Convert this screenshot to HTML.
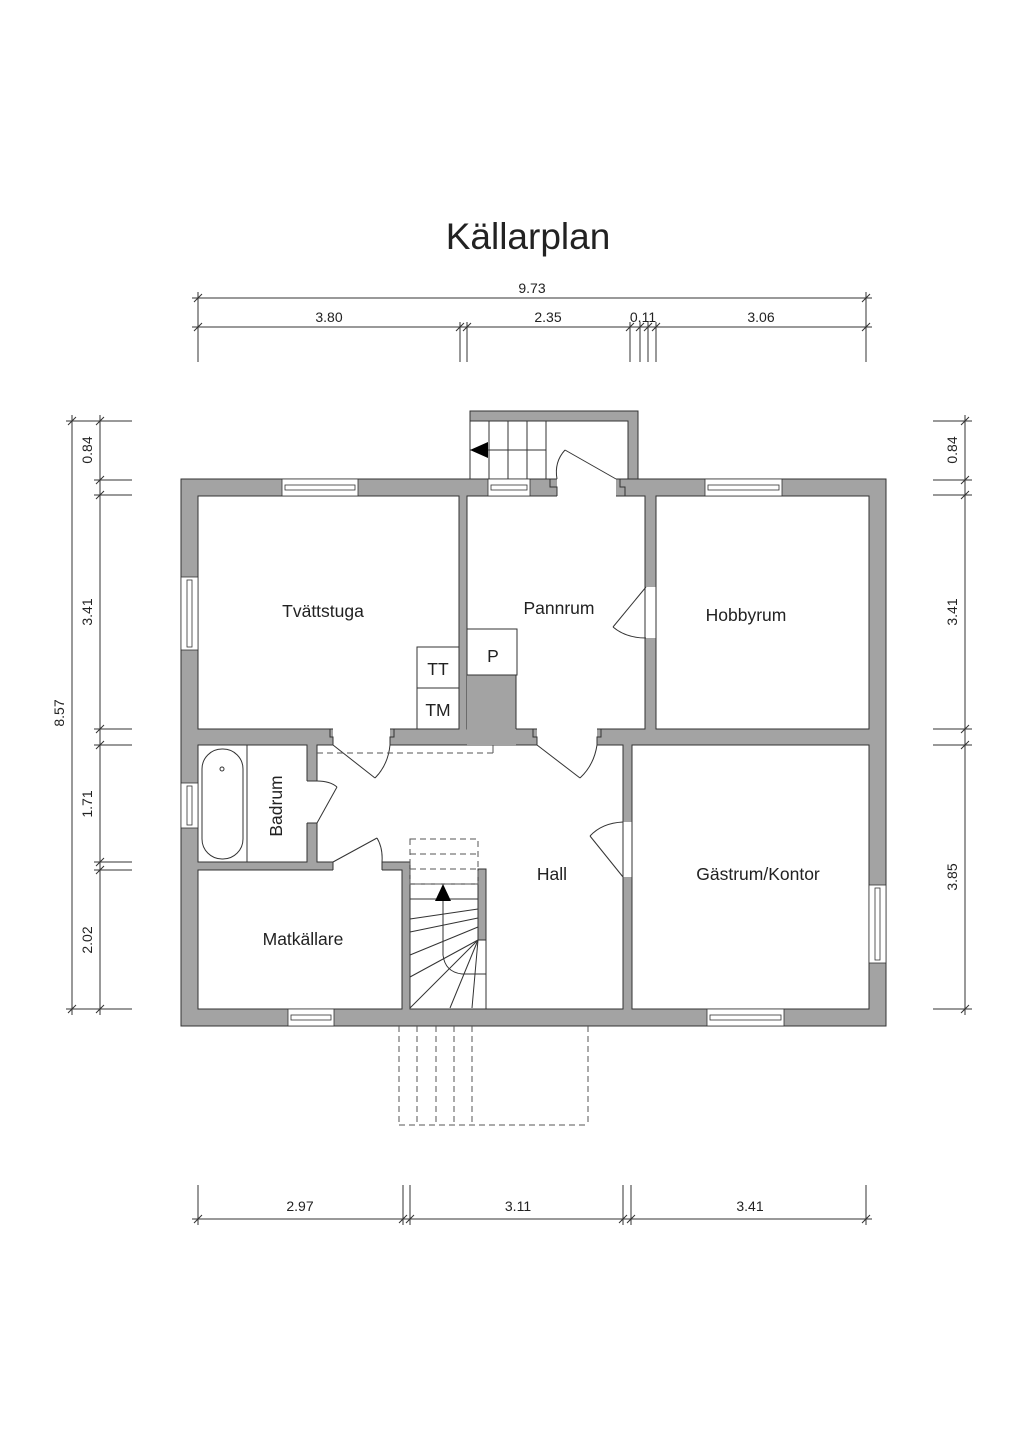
<!DOCTYPE html>
<html><head><meta charset="utf-8"><style>
html,body{margin:0;padding:0;background:#fff;}
svg{display:block;}
text{font-family:"Liberation Sans",sans-serif;fill:#222;}
</style></head><body>
<svg width="1024" height="1448" viewBox="0 0 1024 1448" xmlns="http://www.w3.org/2000/svg">
<rect width="1024" height="1448" fill="#fff"/>
<text x="528" y="249" font-size="37" text-anchor="middle" style="font-weight:300">Källarplan</text>

<g stroke="#333" stroke-width="1" fill="none">
<line x1="192" y1="298" x2="872" y2="298"/>
<line x1="192" y1="327" x2="872" y2="327"/>
<line x1="198" y1="292" x2="198" y2="362"/>
<line x1="866" y1="292" x2="866" y2="362"/>
<line x1="460" y1="322" x2="460" y2="362"/><line x1="467" y1="322" x2="467" y2="362"/>
<line x1="630" y1="322" x2="630" y2="362"/><line x1="640" y1="322" x2="640" y2="362"/>
<line x1="648" y1="322" x2="648" y2="362"/><line x1="656" y1="322" x2="656" y2="362"/>
<path d="M194 302l8-8M862 302l8-8M194 331l8-8M862 331l8-8M456 331l8-8M463 331l8-8M626 331l8-8M636 331l8-8M644 331l8-8M652 331l8-8"/>
<line x1="72" y1="415" x2="72" y2="1015"/>
<line x1="100" y1="415" x2="100" y2="1015"/>
<line x1="66" y1="421" x2="132" y2="421"/>
<line x1="66" y1="1009" x2="132" y2="1009"/>
<line x1="94" y1="480" x2="132" y2="480"/><line x1="94" y1="495" x2="132" y2="495"/>
<line x1="94" y1="729" x2="132" y2="729"/><line x1="94" y1="745" x2="132" y2="745"/>
<line x1="94" y1="862" x2="132" y2="862"/><line x1="94" y1="870" x2="132" y2="870"/>
<path d="M68 425l8-8M96 425l8-8M68 1013l8-8M96 1013l8-8M96 484l8-8M96 499l8-8M96 733l8-8M96 749l8-8M96 866l8-8M96 874l8-8"/>
<line x1="965" y1="415" x2="965" y2="1015"/>
<line x1="933" y1="421" x2="972" y2="421"/>
<line x1="933" y1="480" x2="972" y2="480"/><line x1="933" y1="495" x2="972" y2="495"/>
<line x1="933" y1="729" x2="972" y2="729"/><line x1="933" y1="745" x2="972" y2="745"/>
<line x1="933" y1="1009" x2="972" y2="1009"/>
<path d="M961 425l8-8M961 484l8-8M961 499l8-8M961 733l8-8M961 749l8-8M961 1013l8-8"/>
<line x1="192" y1="1219" x2="872" y2="1219"/>
<line x1="198" y1="1185" x2="198" y2="1225"/><line x1="866" y1="1185" x2="866" y2="1225"/>
<line x1="403" y1="1185" x2="403" y2="1225"/><line x1="410" y1="1185" x2="410" y2="1225"/>
<line x1="623" y1="1185" x2="623" y2="1225"/><line x1="631" y1="1185" x2="631" y2="1225"/>
<path d="M194 1223l8-8M862 1223l8-8M399 1223l8-8M406 1223l8-8M619 1223l8-8M627 1223l8-8"/>
</g>
<g font-size="14">
<text x="532" y="293" text-anchor="middle">9.73</text>
<text x="329" y="322" text-anchor="middle">3.80</text>
<text x="548" y="322" text-anchor="middle">2.35</text>
<text x="643" y="322" text-anchor="middle">0.11</text>
<text x="761" y="322" text-anchor="middle">3.06</text>
<text x="300" y="1211" text-anchor="middle">2.97</text>
<text x="518" y="1211" text-anchor="middle">3.11</text>
<text x="750" y="1211" text-anchor="middle">3.41</text>
<text transform="translate(64,713) rotate(-90)" text-anchor="middle">8.57</text>
<text transform="translate(92,450) rotate(-90)" text-anchor="middle">0.84</text>
<text transform="translate(92,612) rotate(-90)" text-anchor="middle">3.41</text>
<text transform="translate(92,804) rotate(-90)" text-anchor="middle">1.71</text>
<text transform="translate(92,940) rotate(-90)" text-anchor="middle">2.02</text>
<text transform="translate(957,450) rotate(-90)" text-anchor="middle">0.84</text>
<text transform="translate(957,612) rotate(-90)" text-anchor="middle">3.41</text>
<text transform="translate(957,877) rotate(-90)" text-anchor="middle">3.85</text>
</g>

<path d="M470 411H638V479H628V421H470Z" fill="#a3a3a3" stroke="#333" stroke-width="1"/>
<g stroke="#333" stroke-width="1" fill="none">
<line x1="470" y1="421" x2="470" y2="479"/>
<line x1="489" y1="421" x2="489" y2="479"/><line x1="508" y1="421" x2="508" y2="479"/>
<line x1="527" y1="421" x2="527" y2="479"/><line x1="546" y1="421" x2="546" y2="479"/>
<line x1="470" y1="450" x2="546" y2="450"/>
</g>
<path d="M470 450l18-8v16z" fill="#000"/>

<rect x="181" y="479" width="705" height="547" fill="#a3a3a3" stroke="#333" stroke-width="1"/>
<g fill="#fff" stroke="#333" stroke-width="1">
<rect x="198" y="496" width="261" height="233"/>
<rect x="467" y="496" width="178" height="233"/>
<rect x="656" y="496" width="213" height="233"/>
<path d="M317 745H623V1009H410V862H317Z"/>
<rect x="198" y="745" width="109" height="117"/>
<rect x="198" y="870" width="204" height="139"/>
<rect x="632" y="745" width="237" height="264"/>
</g>
<rect x="467" y="675" width="49" height="71" fill="#a3a3a3"/>
<path d="M467 675H516V729" fill="none" stroke="#333"/>
<g fill="#fff">
<rect x="557" y="478" width="59" height="19"/>
<rect x="333" y="728" width="57" height="18"/>
<rect x="537" y="728" width="60" height="18"/>
<rect x="644" y="587" width="13" height="51"/>
<rect x="622" y="822" width="11" height="55"/>
<rect x="306" y="781" width="12" height="42"/>
<rect x="333" y="861" width="49" height="10"/>
</g>
<g fill="none" stroke="#333" stroke-width="1">
<path d="M530 479H550V487H557V496"/>
<path d="M616 479H620V487H625V496"/>
<path d="M325 729H330V737H333V745"/>
<path d="M390 745V737H394V729"/>
<path d="M537 745V737H533V729"/>
<path d="M597 745V737H601V729"/>
<path d="M645 587V638M656 587V638"/>
<path d="M623 822V877M632 822V877"/>
<path d="M307 781H317M307 823H317"/>
<path d="M333 862V870M382 862V870"/>
<path d="M616 479L565 450"/><path d="M565 450Q554 462 557 479"/>
<path d="M333 745L375 778"/><path d="M375 778Q388 765 390 745"/>
<path d="M537 745L580 778"/><path d="M580 778Q594 765 597 745"/>
<path d="M646 587L613 627"/><path d="M613 627Q626 638 646 638"/>
<path d="M623 877L590 836"/><path d="M590 836Q602 823 623 822"/>
<path d="M317 823L337 787"/><path d="M337 787Q330 781 317 781"/>
<path d="M333 862L377 838"/><path d="M377 838Q383 848 382 862"/>
</g>
<g fill="#fff" stroke="#333" stroke-width="0.8">
<rect x="282" y="479" width="76" height="17"/><rect x="285" y="485" width="70" height="5"/>
<rect x="488" y="479" width="42" height="17"/><rect x="491" y="485" width="36" height="5"/>
<rect x="705" y="479" width="77" height="17"/><rect x="708" y="485" width="71" height="5"/>
<rect x="181" y="577" width="17" height="73"/><rect x="187" y="580" width="5" height="67"/>
<rect x="181" y="783" width="17" height="45"/><rect x="187" y="786" width="5" height="39"/>
<rect x="869" y="885" width="17" height="78"/><rect x="875" y="888" width="5" height="72"/>
<rect x="288" y="1009" width="46" height="17"/><rect x="291" y="1015" width="40" height="5"/>
<rect x="707" y="1009" width="77" height="17"/><rect x="710" y="1015" width="71" height="5"/>
</g>
<g fill="#fff" stroke="#333" stroke-width="1">
<rect x="467" y="629" width="50" height="46"/>
<rect x="417" y="647" width="42" height="41"/>
<rect x="417" y="688" width="42" height="41"/>
<rect x="202" y="749" width="41" height="110" rx="20"/>
<circle cx="222" cy="769" r="2"/>
</g>
<line x1="247" y1="745" x2="247" y2="862" stroke="#333"/>
<rect x="478" y="869" width="8" height="71" fill="#a3a3a3" stroke="#333"/>
<g stroke="#333" stroke-width="1" fill="none">
<line x1="486" y1="940" x2="486" y2="1009"/>
<line x1="410" y1="884" x2="478" y2="884"/>
<line x1="410" y1="899" x2="478" y2="899"/>
<line x1="410" y1="919" x2="478" y2="909"/>
<line x1="410" y1="932" x2="478" y2="918"/>
<line x1="410" y1="955" x2="478" y2="927"/>
<line x1="410" y1="977" x2="478" y2="940"/>
<line x1="410" y1="1008" x2="478" y2="940"/>
<line x1="450" y1="1008" x2="478" y2="940"/>
<line x1="472" y1="1008" x2="478" y2="940"/>
<line x1="462" y1="974" x2="486" y2="974"/>
<path d="M443 900V955Q445 972 462 974"/>
</g>
<path d="M443 884l-8 17h16z" fill="#000"/>
<g stroke="#555" stroke-width="1" fill="none" stroke-dasharray="6,4">
<rect x="410" y="839" width="68" height="45"/>
<line x1="410" y1="854" x2="478" y2="854"/>
<line x1="410" y1="869" x2="478" y2="869"/>
<line x1="317" y1="753" x2="493" y2="753"/>
<line x1="399" y1="1026" x2="399" y2="1125"/>
<line x1="417" y1="1026" x2="417" y2="1125"/>
<line x1="436" y1="1026" x2="436" y2="1125"/>
<line x1="454" y1="1026" x2="454" y2="1125"/>
<line x1="472" y1="1026" x2="472" y2="1125"/>
<line x1="588" y1="1026" x2="588" y2="1125"/>
<line x1="399" y1="1125" x2="588" y2="1125"/>
</g>
<line x1="493" y1="745" x2="493" y2="753" stroke="#555"/>

<g font-size="17.5">
<text x="323" y="617" text-anchor="middle">Tvättstuga</text>
<text x="559" y="614" text-anchor="middle">Pannrum</text>
<text x="746" y="621" text-anchor="middle">Hobbyrum</text>
<text x="552" y="880" text-anchor="middle">Hall</text>
<text x="758" y="880" text-anchor="middle">Gästrum/Kontor</text>
<text x="303" y="945" text-anchor="middle">Matkällare</text>
<text transform="translate(282,806) rotate(-90)" text-anchor="middle">Badrum</text>
<text x="438" y="675" text-anchor="middle">TT</text>
<text x="438" y="716" text-anchor="middle">TM</text>
<text x="493" y="662" text-anchor="middle">P</text>
</g>
</svg>
</body></html>
